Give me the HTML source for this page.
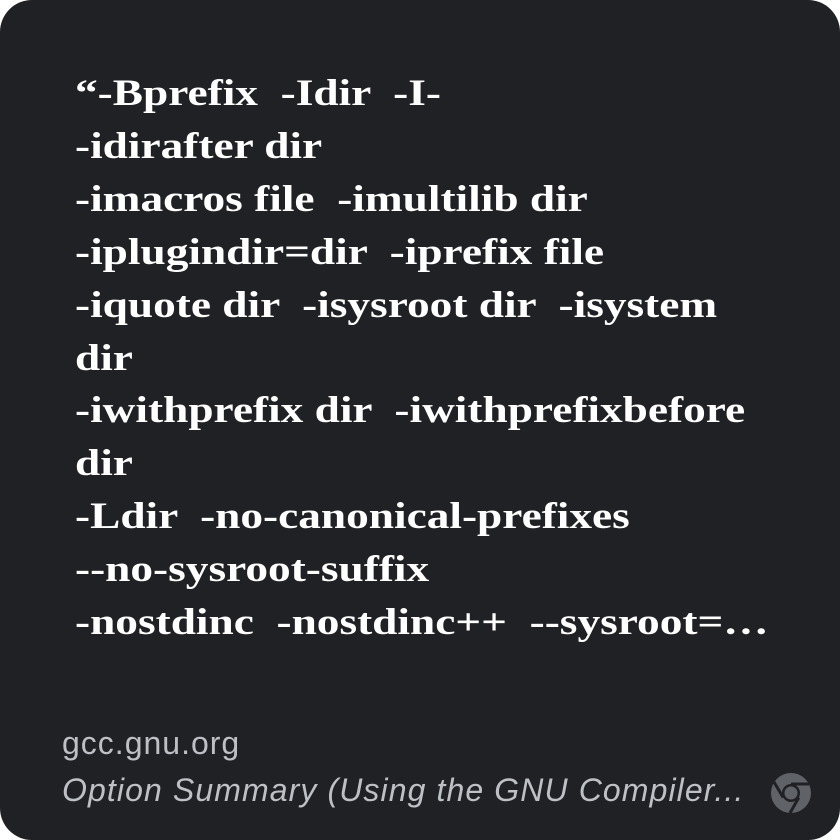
<!DOCTYPE html>
<html><head><style>
html,body{margin:0;padding:0;background:#fff;}
.card{position:absolute;left:0;top:0;width:840px;height:840px;background:#202124;border-radius:32px;overflow:hidden;}
.t{position:absolute;left:75px;top:68px;font-family:"Liberation Serif",serif;font-weight:bold;font-size:37px;line-height:52.9px;color:#fff;white-space:pre;transform:scaleX(1.225);transform-origin:0 0;}
.d{position:absolute;left:62px;top:725px;font-family:"Liberation Sans",sans-serif;font-size:32px;color:#bdc1c6;letter-spacing:1px;}
.s{position:absolute;left:62px;top:772px;font-family:"Liberation Sans",sans-serif;font-style:italic;font-size:32px;color:#bdc1c6;letter-spacing:1.1px;white-space:nowrap;}
</style></head><body>
<div class="card">
<div class="t">“-Bprefix  -Idir  -I-
-idirafter dir
-imacros file  -imultilib dir
-iplugindir=dir  -iprefix file
-iquote dir  -isysroot dir  -isystem
dir
-iwithprefix dir  -iwithprefixbefore
dir
-Ldir  -no-canonical-prefixes
--no-sysroot-suffix
-nostdinc  -nostdinc++  --sysroot=…</div>
<div class="d">gcc.gnu.org</div>
<div class="s">Option Summary (Using the GNU Compiler...</div>
<svg style="position:absolute;left:770px;top:772px" width="42" height="42" viewBox="0 0 42 42">
<circle cx="21" cy="21" r="20" fill="#5f6368"/>
<circle cx="21" cy="21" r="9" fill="#202124"/>
<circle cx="21" cy="21" r="6.5" fill="#5f6368"/>
<path d="M21 12 L39 12" stroke="#202124" stroke-width="3"/>
<path d="M13.2 25.5 L4 10" stroke="#202124" stroke-width="3"/>
<path d="M28.8 25.5 L20 41" stroke="#202124" stroke-width="3"/>
</svg>
</div>
</body></html>
